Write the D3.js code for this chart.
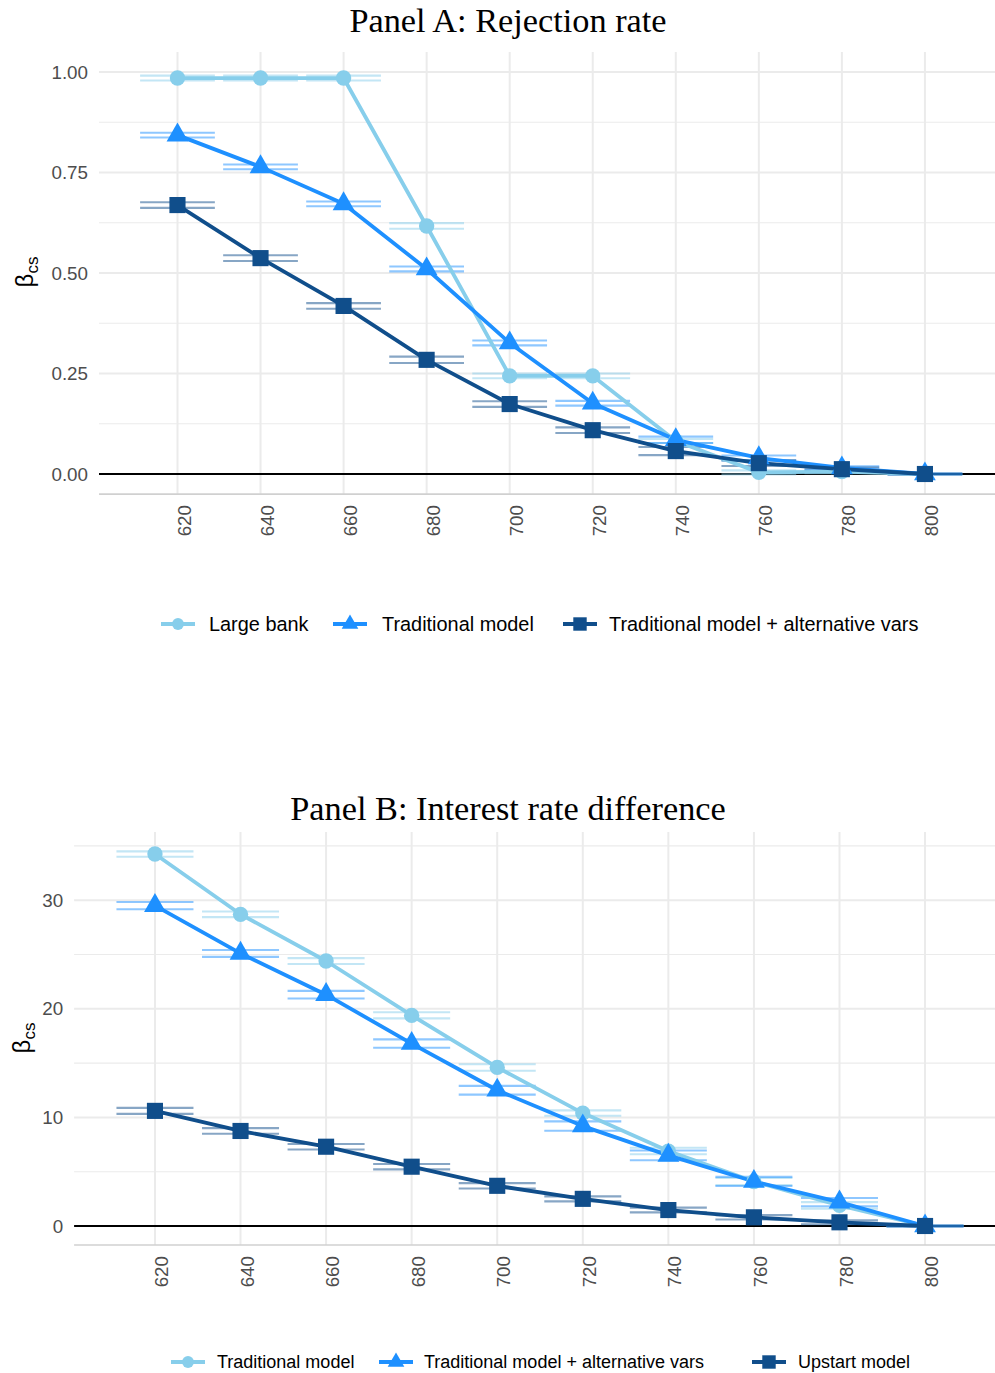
<!DOCTYPE html>
<html><head><meta charset="utf-8">
<script src="https://cdn.jsdelivr.net/npm/d3@7/dist/d3.min.js"></script>
<style>body{margin:0;background:#fff} svg{display:block}</style>
</head><body>
<svg id="chart" width="995" height="1373"></svg>
<script>
// ---------- data ----------
const scores = [620, 640, 660, 680, 700, 720, 740, 760, 780, 800];
const xTickLabels = ["620","640","660","680","700","720","740","760","780","800"];

// Panel A: Rejection rate
const panelATitle = "Panel A: Rejection rate";
const panelANames = ["Large bank", "Traditional model", "Traditional model + alternative vars"];
const aLargeBank    = [0.985, 0.985, 0.985, 0.617, 0.244, 0.244, 0.082, 0.004, 0.006, 0.000];
const aLargeBankCI  = [0.006, 0.006, 0.006, 0.007, 0.006, 0.006, 0.005, 0.005, 0.004, 0.001];
const aTraditional   = [0.843, 0.764, 0.672, 0.510, 0.326, 0.176, 0.085, 0.040, 0.015, 0.000];
const aTraditionalCI = [0.006, 0.006, 0.006, 0.006, 0.006, 0.006, 0.008, 0.006, 0.004, 0.001];
const aAltVars   = [0.669, 0.537, 0.418, 0.284, 0.174, 0.109, 0.057, 0.027, 0.012, 0.000];
const aAltVarsCI = [0.007, 0.007, 0.007, 0.008, 0.007, 0.007, 0.010, 0.007, 0.004, 0.001];
const aYTicks = [0, 0.25, 0.5, 0.75, 1.0];
const aYMinor = [0.125, 0.375, 0.625, 0.875];

// Panel B: Interest rate difference
const panelBTitle = "Panel B: Interest rate difference";
const panelBNames = ["Traditional model", "Traditional model + alternative vars", "Upstart model"];
const bTraditional   = [34.25, 28.7, 24.4, 19.4, 14.6, 10.4, 6.9, 4.1, 1.9, 0.0];
const bTraditionalCI = [0.25, 0.26, 0.27, 0.28, 0.30, 0.25, 0.30, 0.32, 0.30, 0.03];
const bAltVars   = [29.5, 25.1, 21.3, 16.8, 12.5, 9.2, 6.5, 4.1, 2.2, 0.0];
const bAltVarsCI = [0.34, 0.32, 0.35, 0.38, 0.40, 0.43, 0.45, 0.42, 0.38, 0.05];
const bUpstart   = [10.6, 8.75, 7.3, 5.46, 3.7, 2.5, 1.47, 0.8, 0.34, 0.0];
const bUpstartCI = [0.28, 0.26, 0.25, 0.25, 0.25, 0.23, 0.22, 0.20, 0.18, 0.05];
const bYTicks = [0, 10, 20, 30];
const bYMinor = [5, 15, 25, 35];

// ---------- styles ----------
const colors = ["#87CEEB", "#1E90FF", "#104E8B"];
const shapes = [d3.symbolCircle, d3.symbolTriangle, d3.symbolSquare];
const plotSizes = [185, 205, 260];
const legendSizes = [110, 120, 180];
const errHalf = 9; // half-width of error bars in score units

const svg = d3.select("#chart");

function drawPanel(cfg) {
  const g = svg.append("g");
  const x = d3.scaleLinear().domain([601.1, 818.9]).range(cfg.xRange);
  const y = d3.scaleLinear().domain(cfg.yDomain).range(cfg.yRange);
  const [x0, x1] = cfg.xRange;
  const [yb, yt] = cfg.yRange;

  // minor grid
  g.append("g").selectAll("line").data(cfg.yMinor).join("line")
    .attr("x1", x0).attr("x2", x1).attr("y1", d => y(d)).attr("y2", d => y(d))
    .attr("stroke", "#EBEBEB").attr("stroke-width", 1.1);
  // major grid
  g.append("g").selectAll("line").data(cfg.yTicks).join("line")
    .attr("x1", x0).attr("x2", x1).attr("y1", d => y(d)).attr("y2", d => y(d))
    .attr("stroke", "#EBEBEB").attr("stroke-width", 2);
  g.append("g").selectAll("line").data(scores).join("line")
    .attr("x1", d => x(d)).attr("x2", d => x(d)).attr("y1", yt).attr("y2", yb)
    .attr("stroke", "#EBEBEB").attr("stroke-width", 2);

  // bottom axis line
  g.append("line").attr("x1", x0).attr("x2", x1).attr("y1", yb).attr("y2", yb)
    .attr("stroke", "#D0D0D0").attr("stroke-width", 1.6);

  // y tick labels
  const yAxis = d3.axisLeft(y).tickValues(cfg.yTicks).tickFormat(cfg.yFormat).tickSize(0).tickPadding(0);
  const ya = g.append("g").attr("transform", `translate(${x0 - 11},0)`).call(yAxis);
  ya.select(".domain").remove();
  ya.selectAll("text").attr("font-family", "Liberation Sans, Arial, sans-serif")
    .attr("font-size", 18.8).attr("fill", "#4D4D4D");

  // x tick labels (rotated)
  const xAxis = d3.axisBottom(x).tickValues(scores).tickFormat((d, i) => xTickLabels[i]).tickSize(0);
  const xa = g.append("g").attr("transform", `translate(0,${cfg.xLabelTop})`).call(xAxis);
  xa.select(".domain").remove();
  xa.selectAll("text")
    .attr("font-family", "Liberation Sans, Arial, sans-serif").attr("font-size", 18.8).attr("fill", "#4D4D4D")
    .attr("text-anchor", "end").attr("transform", "translate(6,0) rotate(-90)")
    .attr("x", 0).attr("y", 0).attr("dy", "0.35em");

  // zero line
  g.append("line").attr("x1", x0).attr("x2", x1).attr("y1", y(0)).attr("y2", y(0))
    .attr("stroke", "#000").attr("stroke-width", 2);

  const series = cfg.series.map((s, k) => ({
    k, pts: scores.map((sc, i) => ({ x: sc, y: s.values[i], lo: s.values[i] - s.ci[i], hi: s.values[i] + s.ci[i] }))
  }));

  // error bars
  series.forEach(s => {
    const eg = g.append("g").attr("stroke", colors[s.k]).attr("stroke-opacity", 0.5).attr("stroke-width", 2.1);
    eg.selectAll("line.hi").data(s.pts).join("line").attr("class", "hi")
      .attr("x1", d => x(d.x - errHalf)).attr("x2", d => x(d.x + errHalf))
      .attr("y1", d => y(d.hi)).attr("y2", d => y(d.hi));
    eg.selectAll("line.lo").data(s.pts).join("line").attr("class", "lo")
      .attr("x1", d => x(d.x - errHalf)).attr("x2", d => x(d.x + errHalf))
      .attr("y1", d => y(d.lo)).attr("y2", d => y(d.lo));
  });
  // lines
  const line = d3.line().x(d => x(d.x)).y(d => y(d.y));
  series.forEach(s => {
    g.append("path").datum(s.pts).attr("d", line).attr("fill", "none")
      .attr("stroke", colors[s.k]).attr("stroke-width", 3.8).attr("stroke-linejoin", "round");
  });
  // points
  series.forEach(s => {
    g.append("g").selectAll("path").data(s.pts).join("path")
      .attr("transform", d => `translate(${x(d.x)},${y(d.y)})`)
      .attr("d", d3.symbol().type(shapes[s.k]).size(plotSizes[s.k]))
      .attr("fill", colors[s.k]);
  });

  // title
  svg.append("text").attr("x", 508).attr("y", cfg.titleY).attr("text-anchor", "middle")
    .attr("font-family", "Liberation Serif, Times New Roman, serif").attr("font-size", 34.3)
    .attr("fill", "#000").text(cfg.title);

  // y-axis title
  const yt2 = svg.append("text").attr("transform", `translate(${cfg.yLabelX},${cfg.yLabelY}) rotate(-90)`)
    .attr("text-anchor", "middle").attr("font-family", "Liberation Sans, Arial, sans-serif").attr("fill", "#000");
  yt2.append("tspan").attr("font-size", 24).text("β");
  yt2.append("tspan").attr("font-size", 17).attr("dy", 5).text("cs");

  // legend
  const lg = svg.append("g");
  cfg.series.forEach((s, k) => {
    const cx = cfg.legendKeys[k];
    lg.append("line").attr("x1", cx - 17).attr("x2", cx + 17).attr("y1", cfg.legendY).attr("y2", cfg.legendY)
      .attr("stroke", colors[k]).attr("stroke-width", 4);
    lg.append("path").attr("transform", `translate(${cx},${cfg.legendY})`)
      .attr("d", d3.symbol().type(shapes[k]).size(legendSizes[k])).attr("fill", colors[k]);
    lg.append("text").attr("x", cfg.legendText[k]).attr("y", cfg.legendY).attr("dy", "0.35em")
      .attr("font-family", "Liberation Sans, Arial, sans-serif").attr("font-size", cfg.legendFont)
      .attr("fill", "#000").text(s.name);
  });
}

drawPanel({
  title: panelATitle, titleY: 32,
  xRange: [99, 1003.4], yRange: [494.1, 51.9], yDomain: [-0.05, 1.05],
  yTicks: aYTicks, yMinor: aYMinor, yFormat: d3.format(".2f"),
  xLabelTop: 505, yLabelX: 33, yLabelY: 272,
  series: [
    { name: panelANames[0], values: aLargeBank, ci: aLargeBankCI },
    { name: panelANames[1], values: aTraditional, ci: aTraditionalCI },
    { name: panelANames[2], values: aAltVars, ci: aAltVarsCI }
  ],
  legendY: 624, legendKeys: [178, 350, 580], legendText: [209, 382, 609], legendFont: 19.9
});

drawPanel({
  title: panelBTitle, titleY: 820,
  xRange: [74.1, 1005.9], yRange: [1245, 832], yDomain: [-1.75, 36.28],
  yTicks: bYTicks, yMinor: bYMinor, yFormat: d3.format("d"),
  xLabelTop: 1256, yLabelX: 30, yLabelY: 1038,
  series: [
    { name: panelBNames[0], values: bTraditional, ci: bTraditionalCI },
    { name: panelBNames[1], values: bAltVars, ci: bAltVarsCI },
    { name: panelBNames[2], values: bUpstart, ci: bUpstartCI }
  ],
  legendY: 1362, legendKeys: [188, 396, 769], legendText: [217, 424, 798], legendFont: 18
});
</script>
</body></html>
